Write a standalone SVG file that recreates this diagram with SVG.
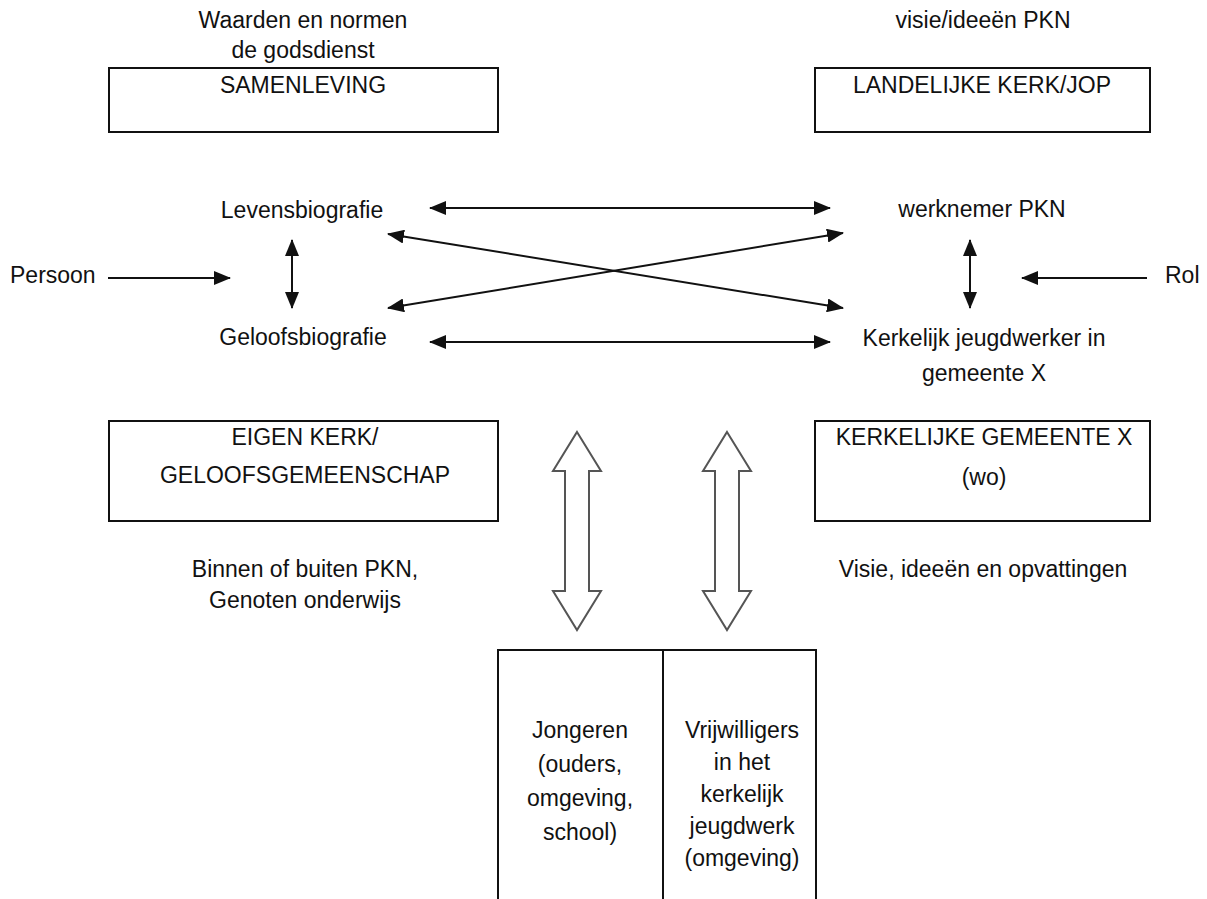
<svg xmlns="http://www.w3.org/2000/svg" width="1207" height="899" viewBox="0 0 1207 899">
<style>
text{font-family:"Liberation Sans",Arial,sans-serif;font-size:23px;fill:#111}
.c{text-anchor:middle}
.box{fill:#fff;stroke:#111;stroke-width:2}
.ln{stroke:#111;stroke-width:2;fill:none}
.blk{fill:#fff;stroke:#555;stroke-width:2}
</style>
<defs>
<marker id="ah" markerUnits="userSpaceOnUse" markerWidth="17" markerHeight="14" refX="16" refY="7" orient="auto-start-reverse">
<path d="M0,0 L17,7 L0,14 z" fill="#111"/>
</marker>
</defs>
<rect width="1207" height="899" fill="#fff"/>
<g id="samenleving">
<text class="c" x="303" y="28">Waarden en normen</text>
<text class="c" x="303" y="58">de godsdienst</text>
<rect class="box" x="109" y="68" width="389" height="64"/>
<text class="c" x="303" y="93">SAMENLEVING</text>
</g>
<g id="landelijke-kerk">
<text class="c" x="983" y="28">visie/ideeën PKN</text>
<rect class="box" x="815" y="68" width="335" height="64"/>
<text class="c" x="982" y="93">LANDELIJKE KERK/JOP</text>
</g>
<g id="levensbiografie"><text class="c" x="302" y="218">Levensbiografie</text></g>
<g id="geloofsbiografie"><text class="c" x="303" y="345">Geloofsbiografie</text></g>
<g id="werknemer"><text class="c" x="982" y="217">werknemer PKN</text></g>
<g id="jeugdwerker">
<text class="c" x="984" y="346">Kerkelijk jeugdwerker in</text>
<text class="c" x="984" y="381">gemeente X</text>
</g>
<g id="persoon"><text x="10" y="283">Persoon</text></g>
<g id="rol"><text x="1165" y="283">Rol</text></g>
<g id="eigen-kerk">
<rect class="box" x="109" y="421" width="389" height="100"/>
<text class="c" x="305" y="445">EIGEN KERK/</text>
<text class="c" x="305" y="483">GELOOFSGEMEENSCHAP</text>
<text class="c" x="305" y="577">Binnen of buiten PKN,</text>
<text class="c" x="305" y="608">Genoten onderwijs</text>
</g>
<g id="kerkelijke-gemeente">
<rect class="box" x="815" y="421" width="335" height="100"/>
<text class="c" x="984" y="445">KERKELIJKE GEMEENTE X</text>
<text class="c" x="984" y="485">(wo)</text>
<text class="c" x="983" y="577">Visie, ideeën en opvattingen</text>
</g>
<g id="jongeren-vrijwilligers">
<path class="ln" d="M498,899 V650 H816 V899 M663,650 V899"/>
<text class="c" x="580" y="738">Jongeren</text>
<text class="c" x="580" y="772">(ouders,</text>
<text class="c" x="580" y="806">omgeving,</text>
<text class="c" x="580" y="840">school)</text>
<text class="c" x="742" y="738">Vrijwilligers</text>
<text class="c" x="742" y="770">in het</text>
<text class="c" x="742" y="802">kerkelijk</text>
<text class="c" x="742" y="834">jeugdwerk</text>
<text class="c" x="742" y="866">(omgeving)</text>
</g>
<g id="connectors">
<line class="ln" x1="430" y1="208" x2="830" y2="208" marker-start="url(#ah)" marker-end="url(#ah)"/>
<line class="ln" x1="430" y1="342" x2="830" y2="342" marker-start="url(#ah)" marker-end="url(#ah)"/>
<line class="ln" x1="388" y1="234" x2="843" y2="308" marker-start="url(#ah)" marker-end="url(#ah)"/>
<line class="ln" x1="388" y1="308" x2="843" y2="233" marker-start="url(#ah)" marker-end="url(#ah)"/>
<line class="ln" x1="292" y1="240" x2="292" y2="308" marker-start="url(#ah)" marker-end="url(#ah)"/>
<line class="ln" x1="970" y1="240" x2="970" y2="308" marker-start="url(#ah)" marker-end="url(#ah)"/>
<line class="ln" x1="108" y1="278" x2="230" y2="278" marker-end="url(#ah)"/>
<line class="ln" x1="1147" y1="278" x2="1022" y2="278" marker-end="url(#ah)"/>
<path class="blk" d="M577,432 L601,471 L589,471 L589,591 L601,591 L577,630 L553,591 L565,591 L565,471 L553,471 Z"/>
<path class="blk" d="M727,432 L751,471 L739,471 L739,591 L751,591 L727,630 L703,591 L715,591 L715,471 L703,471 Z"/>
</g>
</svg>
